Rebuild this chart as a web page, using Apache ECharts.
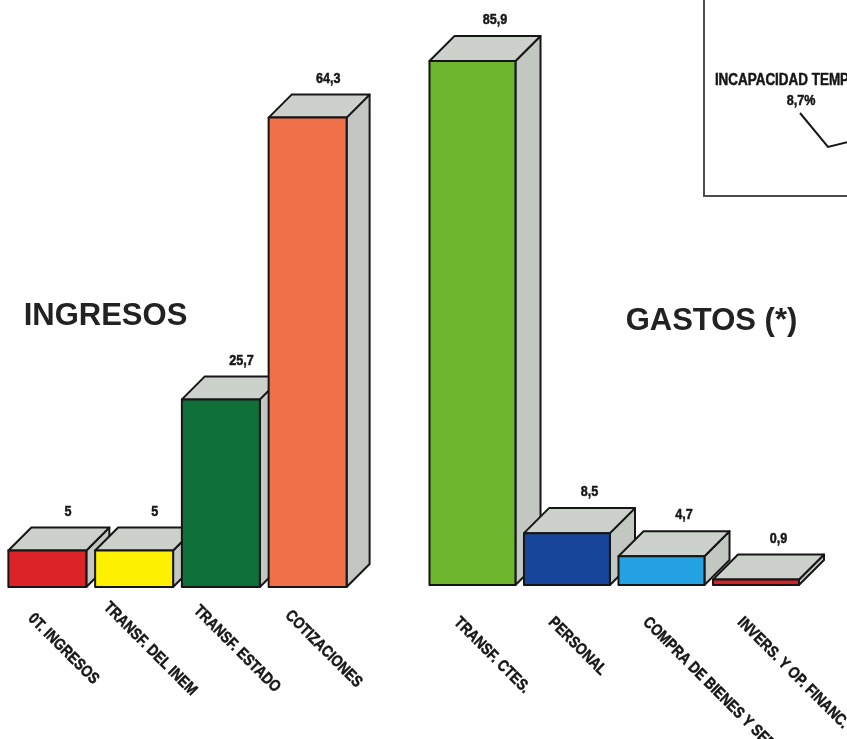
<!DOCTYPE html>
<html>
<head>
<meta charset="utf-8">
<title>Ingresos y gastos</title>
<script src="https://cdn.jsdelivr.net/npm/echarts/dist/echarts.min.js"></script>
<style>
  html, body { margin: 0; padding: 0; background: #ffffff; }
  #chart { width: 847px; height: 739px; }
</style>
</head>
<body>
<div id="chart"></div>
<script>
// Ingresos (percentages)
const ingresosCategories = ['0T. INGRESOS', 'TRANSF. DEL INEM', 'TRANSF. ESTADO', 'COTIZACIONES'];
const ingresosValues = [5, 5, 25.7, 64.3];

// Gastos (percentages)
const gastosCategories = ['TRANSF. CTES.', 'PERSONAL', 'COMPRA DE BIENES Y SERV.', 'INVERS. Y OP. FINANC.'];
const gastosValues = [85.9, 8.5, 4.7, 0.9];

// Pie slice label visible in the corner panel
const insetLabel = 'INCAPACIDAD TEMPORAL';
const insetValue = 8.7;

const ingresosColors = ['#db2328', '#fdf000', '#10703a', '#f0704a'];
const gastosColors = ['#6db52d', '#16459a', '#24a1e0', '#cf2229'];

const FONT = '"Liberation Sans", Arial, Helvetica, sans-serif';
const INK = '#161616';
const CONDENSE = 0.84; // horizontal squeeze for the condensed lettering

function fmt(v) {
  return String(v).replace('.', ',');
}

function textStyle(text, font, align, heavy) {
  const s = {
    text: text, x: 0, y: 0, fill: INK, font: font,
    align: align, verticalAlign: 'middle',
    textAlign: align, textVerticalAlign: 'middle'
  };
  if (heavy) {
    s.stroke = INK;
    s.lineWidth = 0.5;
  }
  return s;
}

// Draws one bar as a box: front face, lit top and shaded side,
// the value above it and the category name slanted below.
function boxRenderer(cfg) {
  return function (params, api) {
    const i = api.value(0);
    const v = api.value(1);
    const base = api.coord([i, 0]);
    const top = api.coord([i, v]);
    const band = api.size([1, 0])[0];
    const x0 = base[0] + cfg.offset * band;
    const w = cfg.width * band;
    const d = cfg.depth * band;
    const yb = base[1];
    const yt = top[1];
    const fc = x0 + w / 2;
    const edge = { stroke: INK, lineWidth: 2, lineJoin: 'round' };
    return {
      type: 'group',
      children: [
        {
          type: 'polygon',
          shape: { points: [[x0 + w, yt], [x0 + w + d, yt - d], [x0 + w + d, yb - d], [x0 + w, yb]] },
          style: Object.assign({ fill: '#c2c7c1' }, edge)
        },
        {
          type: 'polygon',
          shape: { points: [[x0, yt], [x0 + d, yt - d], [x0 + w + d, yt - d], [x0 + w, yt]] },
          style: Object.assign({ fill: '#cdd1cc' }, edge)
        },
        {
          type: 'rect',
          shape: { x: x0, y: yt, width: w, height: yb - yt },
          style: Object.assign({ fill: cfg.colors[params.dataIndex] }, edge)
        },
        {
          type: 'text',
          x: fc + d * 0.9,
          y: yt - d - 16,
          scaleX: CONDENSE,
          style: textStyle(fmt(v), 'bold 15px ' + FONT, 'center', true)
        },
        {
          type: 'text',
          x: fc + cfg.labelDx,
          y: yb + cfg.labelDy,
          rotation: -Math.PI / 4,
          scaleX: CONDENSE,
          style: textStyle(cfg.names[params.dataIndex], 'bold 16px ' + FONT, cfg.labelAlign, true)
        }
      ]
    };
  };
}

const chart = echarts.init(document.getElementById('chart'), null, { renderer: 'canvas' });

chart.setOption({
  backgroundColor: '#ffffff',
  animation: false,
  grid: [
    { left: 20, width: 347, top: 3, bottom: 152, outerBoundsMode: 'none', containLabel: false },
    { left: 409.25, width: 378, top: 36, bottom: 154, outerBoundsMode: 'none', containLabel: false }
  ],
  xAxis: [
    {
      type: 'category', gridIndex: 0, data: ingresosCategories,
      axisLine: { show: false }, axisTick: { show: false }, axisLabel: { show: false }
    },
    {
      type: 'category', gridIndex: 1, data: gastosCategories,
      axisLine: { show: false }, axisTick: { show: false }, axisLabel: { show: false }
    }
  ],
  yAxis: [
    { type: 'value', gridIndex: 0, min: 0, max: 80, show: false },
    { type: 'value', gridIndex: 1, min: 0, max: 90, show: false }
  ],
  series: [
    {
      name: 'INGRESOS',
      type: 'custom',
      xAxisIndex: 0, yAxisIndex: 0,
      encode: { x: 0, y: 1 },
      data: ingresosValues.map((v, i) => [i, v]),
      renderItem: boxRenderer({
        offset: -0.634, width: 0.899, depth: 0.265,
        colors: ingresosColors, names: ingresosCategories,
        labelAlign: 'center', labelDx: 16, labelDy: 62
      })
    },
    {
      name: 'GASTOS',
      type: 'custom',
      xAxisIndex: 1, yAxisIndex: 1,
      encode: { x: 0, y: 1 },
      data: gastosValues.map((v, i) => [i, v]),
      renderItem: boxRenderer({
        offset: -0.286, width: 0.91, depth: 0.265,
        colors: gastosColors, names: gastosCategories,
        labelAlign: 'left', labelDx: -16, labelDy: 35
      })
    }
  ],
  graphic: [
    {
      type: 'text', x: 105.5, y: 316,
      style: Object.assign(textStyle('INGRESOS', 'bold 31px ' + FONT, 'center'), { fill: '#222222' })
    },
    {
      type: 'text', x: 711.5, y: 321,
      style: Object.assign(textStyle('GASTOS (*)', 'bold 31px ' + FONT, 'center'), { fill: '#222222' })
    },
    {
      type: 'rect',
      shape: { x: 704, y: -20, width: 220, height: 216 },
      style: { fill: 'none', stroke: '#4d4d4d', lineWidth: 2 }
    },
    {
      type: 'text', x: 801, y: 81, scaleX: CONDENSE,
      style: textStyle(insetLabel, 'bold 16px ' + FONT, 'center', true)
    },
    {
      type: 'text', x: 801, y: 101, scaleX: CONDENSE,
      style: textStyle(fmt(insetValue) + '%', 'bold 15px ' + FONT, 'center', true)
    },
    {
      type: 'polyline',
      shape: { points: [[800, 113], [828, 147], [852, 141]] },
      style: { stroke: INK, lineWidth: 2, fill: 'none' }
    }
  ]
});
</script>
</body>
</html>
